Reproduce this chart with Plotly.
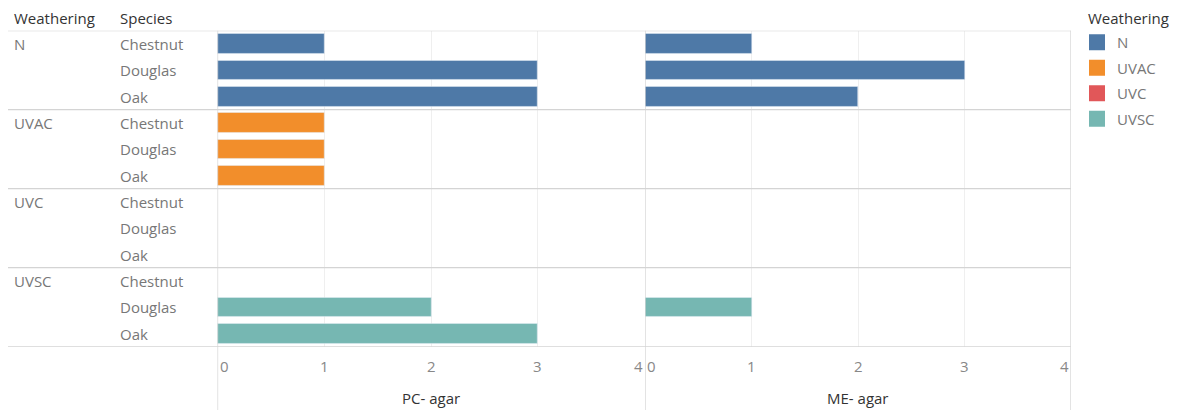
import plotly.graph_objects as go

# ---- data ----
weathering = ["N", "UVAC", "UVC", "UVSC"]
species = ["Chestnut", "Douglas", "Oak"]
colors = {"N": "#4e79a7", "UVAC": "#f28e2b", "UVC": "#e15759", "UVSC": "#76b7b2"}
pc_agar = {"N": [1, 3, 3], "UVAC": [1, 1, 1], "UVC": [None, None, None], "UVSC": [None, 2, 3]}
me_agar = {"N": [1, 3, 2], "UVAC": [None, None, None], "UVC": [None, None, None], "UVSC": [None, 1, None]}
x_ticks = [0, 1, 2, 3, 4]
measure_titles = ["PC- agar", "ME- agar"]
legend_title = "Weathering"

# page has an 8px body margin; compensate so reference pixel coords line up
OFF = 8
W, H = 1188 - OFF, 410 - OFF
FONT = "Open Sans"
FS = 15
GRAY = "#777777"
DARK = "#333333"
LINE = "#d4d4d4"

def px(x):
    return (x - OFF) / W

def py(y):
    return 1 - (y - OFF) / H

n_rows = len(weathering) * len(species)
fig = go.Figure()

for gi, w in enumerate(weathering):
    rows = [gi * len(species) + si for si in range(len(species))]
    fig.add_trace(go.Bar(
        x=pc_agar[w], y=rows, orientation="h", name=w, marker_color=colors[w],
        width=0.74, xaxis="x", yaxis="y", legendgroup=w, showlegend=False,
        hoverinfo="x+name"))
    fig.add_trace(go.Bar(
        x=me_agar[w], y=rows, orientation="h", name=w, marker_color=colors[w],
        width=0.74, xaxis="x2", yaxis="y", legendgroup=w, showlegend=False,
        hoverinfo="x+name"))
    # legend entry (square swatch)
    fig.add_trace(go.Scatter(
        x=[None], y=[None], mode="markers", name=w, legendgroup=w, showlegend=True,
        marker=dict(symbol="square", size=16, color=colors[w]),
        xaxis="x", yaxis="y"))

top_px, bot_px = 30.7, 346.7
x1_dom = [px(217.5), px(644.5)]
x2_dom = [px(645), px(1071)]

axis_common = dict(range=[0, 4], dtick=1, showgrid=True, gridcolor="#efefef",
                   gridwidth=1, zeroline=False, showticklabels=False, ticks="",
                   fixedrange=True)
fig.update_layout(
    xaxis=dict(domain=x1_dom, anchor="y", **axis_common),
    xaxis2=dict(domain=x2_dom, anchor="y", **axis_common),
    yaxis=dict(domain=[py(bot_px), py(top_px)], range=[n_rows - 0.5, -0.5],
               showgrid=False, zeroline=False, showticklabels=False, ticks="",
               fixedrange=True),
)

shapes = []
# horizontal separators
for b in [-0.5] + [(gi + 1) * len(species) - 0.5 for gi in range(len(weathering))]:
    shapes.append(dict(type="line", xref="paper", yref="y", x0=px(7), x1=px(1071),
                       y0=b, y1=b, line=dict(color=LINE, width=1.3)))
# vertical pane lines
for xr, xv in [("x", 0), ("x2", 0), ("x2", 4)]:
    shapes.append(dict(type="line", xref=xr, yref="paper", x0=xv, x1=xv,
                       y0=0, y1=py(top_px), line=dict(color=LINE, width=1.3)))

annotations = []
# headers
annotations.append(dict(text="Weathering", xref="paper", yref="paper", x=px(12), y=py(18),
                        xanchor="left", yanchor="middle", showarrow=False,
                        font=dict(family=FONT, size=FS, color=DARK)))
annotations.append(dict(text="Species", xref="paper", yref="paper", x=px(118), y=py(18),
                        xanchor="left", yanchor="middle", showarrow=False,
                        font=dict(family=FONT, size=FS, color=DARK)))
# legend title
annotations.append(dict(text=legend_title, xref="paper", yref="paper", x=px(1086), y=py(18),
                        xanchor="left", yanchor="middle", showarrow=False,
                        font=dict(family=FONT, size=FS, color=DARK)))
for gi, w in enumerate(weathering):
    annotations.append(dict(text=w, xref="paper", yref="y", x=px(12), y=gi * len(species),
                            xanchor="left", yanchor="middle", showarrow=False,
                            font=dict(family=FONT, size=FS, color=GRAY)))
    for si, s in enumerate(species):
        annotations.append(dict(text=s, xref="paper", yref="y", x=px(118),
                                y=gi * len(species) + si, xanchor="left", yanchor="middle",
                                showarrow=False, font=dict(family=FONT, size=FS, color=GRAY)))
# tick labels
for xr in ["x", "x2"]:
    for t in x_ticks:
        anchor = "left" if t == x_ticks[0] else ("right" if t == x_ticks[-1] else "center")
        annotations.append(dict(text=str(t), xref=xr, yref="paper", x=t, y=py(366),
                                xanchor=anchor, yanchor="middle", showarrow=False,
                                font=dict(family=FONT, size=FS, color="#888888")))
# axis titles
for xr, title in zip(["x", "x2"], measure_titles):
    annotations.append(dict(text=title, xref=xr, yref="paper", x=2, y=py(398),
                            xanchor="center", yanchor="middle", showarrow=False,
                            font=dict(family=FONT, size=FS, color=DARK)))

fig.update_layout(
    width=W, height=H, margin=dict(l=0, r=0, t=0, b=0, autoexpand=False),
    paper_bgcolor="white", plot_bgcolor="white",
    barmode="overlay", bargap=0,
    shapes=shapes, annotations=annotations,
    legend=dict(x=px(1077), y=py(26), xanchor="left", yanchor="top",
                font=dict(family=FONT, size=FS, color=GRAY),
                tracegroupgap=3, itemwidth=30, bgcolor="rgba(0,0,0,0)"),
    font=dict(family=FONT),
)

fig.write_html("out.html")
